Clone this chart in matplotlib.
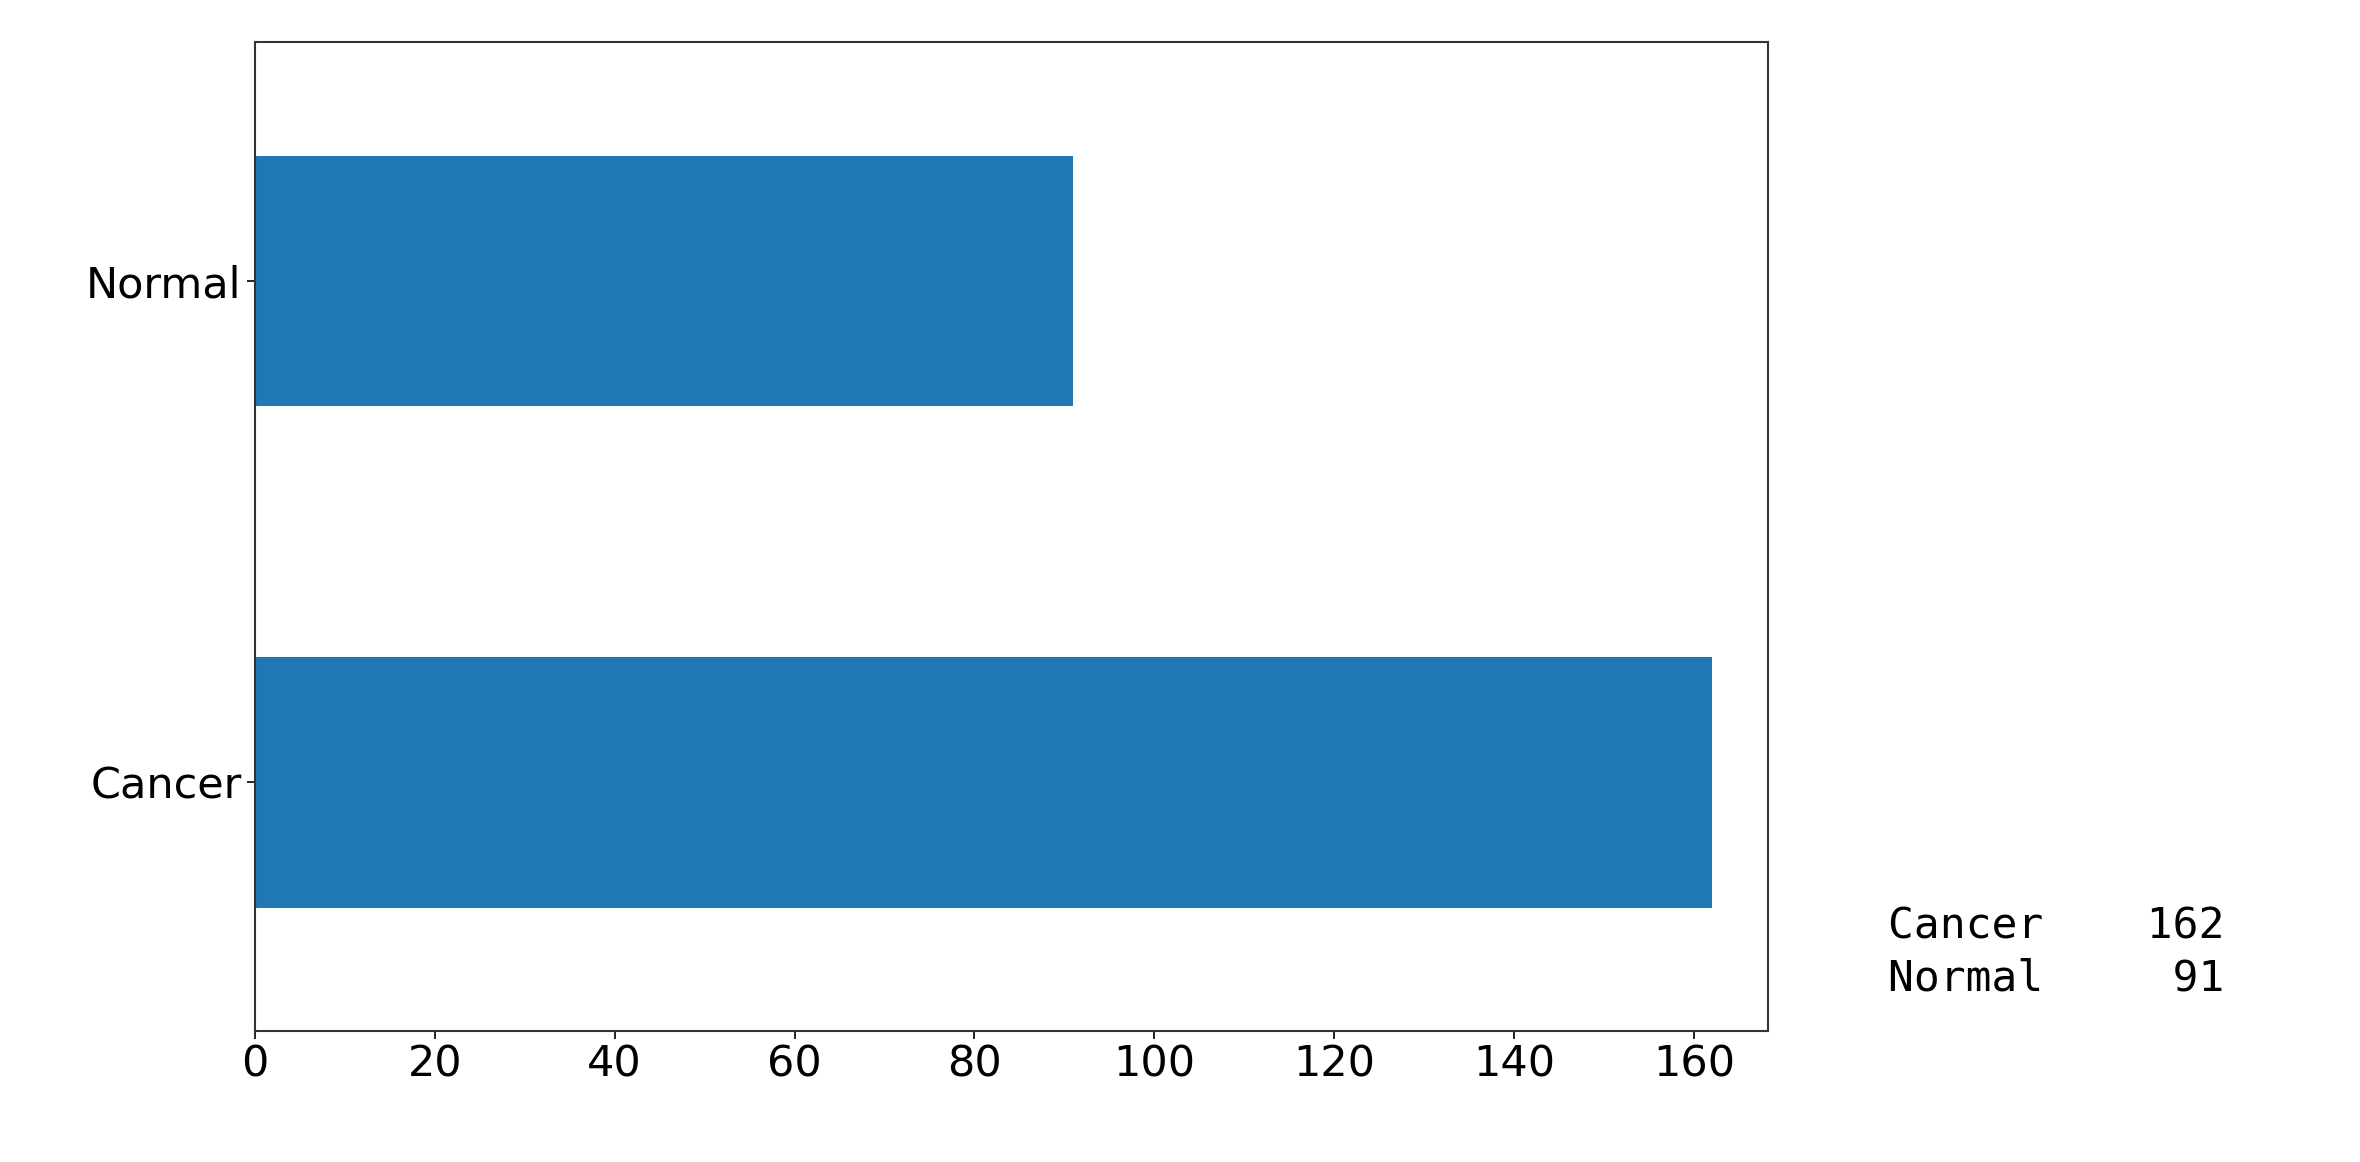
import matplotlib
matplotlib.use("Agg")
import matplotlib.pyplot as plt

categories = ["Cancer", "Normal"]
counts = [162, 91]
xticks = [0, 20, 40, 60, 80, 100, 120, 140, 160]

fig = plt.figure(figsize=(23.6, 11.62), dpi=100)
ax = fig.add_axes([0.108, 0.113, 0.641, 0.851])
ax.barh(categories, counts, height=0.5, color="#1f77b4")
ax.set_xlim(0, 168.2)
ax.set_ylim(-0.495, 1.477)
ax.set_xticks(xticks)
ax.tick_params(labelsize=31, length=6, width=1.2)
for s in ax.spines.values():
    s.set_linewidth(1.5)
    s.set_color("#333333")

# series summary printed beside the plot
summary = "\n".join(f"{c:<10}{n:>3}" for c, n in zip(categories, counts))
fig.text(0.80, 0.14, summary, family="DejaVu Sans Mono", fontsize=31,
         va="bottom", ha="left", linespacing=1.3)

fig.savefig("out.png")
